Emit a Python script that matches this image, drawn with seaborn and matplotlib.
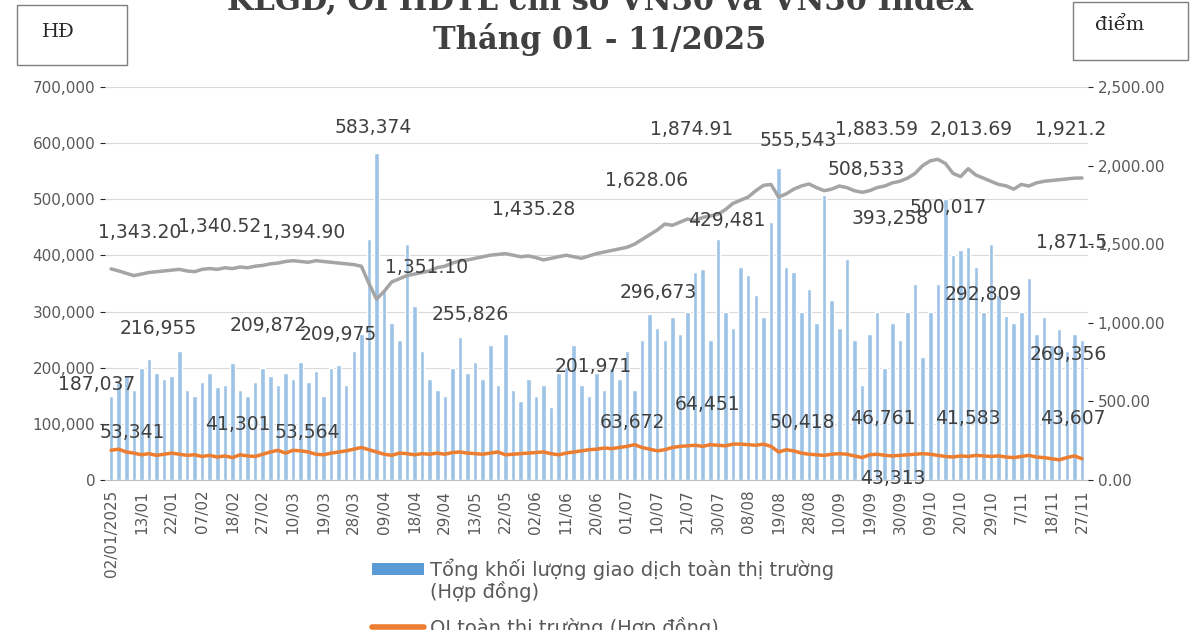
import numpy as np
import pandas as pd
import matplotlib
matplotlib.use("Agg")
import matplotlib.pyplot as plt
from matplotlib.patches import Rectangle
from matplotlib.lines import Line2D
import seaborn as sns

sns.set_style("white")
plt.rcParams['font.family'] = ['DejaVu Sans']

tick_labels = ["02/01/2025", "13/01", "22/01", "07/02", "18/02", "27/02", "10/03", "19/03",
               "28/03", "09/04", "18/04", "29/04", "13/05", "22/05", "02/06", "11/06",
               "20/06", "01/07", "10/07", "21/07", "30/07", "08/08", "19/08", "28/08",
               "10/09", "19/09", "30/09", "09/10", "20/10", "29/10", "7/11", "18/11", "27/11"]

# total volume, thousand contracts (4 samples per tick interval)
volume_k = [150, 175, 187, 160, 200, 216, 190, 180, 185, 230, 160, 150, 175, 190, 165, 170,
            209, 160, 150, 175, 200, 185, 170, 190, 180, 210, 175, 195, 150, 200, 205, 170,
            230, 260, 430, 583, 340, 280, 250, 420, 310, 230, 180, 160, 150, 200, 255, 190,
            210, 180, 240, 170, 260, 160, 140, 180, 150, 170, 130, 190, 201, 240, 170, 150,
            190, 160, 200, 180, 230, 160, 250, 296, 270, 250, 290, 260, 300, 370, 375, 250,
            429, 300, 270, 380, 365, 330, 290, 460, 555, 380, 370, 300, 340, 280, 508, 320,
            270, 393, 250, 170, 260, 300, 200, 280, 250, 300, 350, 220, 300, 350, 500, 400,
            410, 415, 380, 300, 420, 330, 292, 280, 300, 360, 260, 290, 240, 269, 230, 260, 250]

oi_k = [53, 55, 50, 48, 45, 47, 44, 46, 48, 46, 44, 45, 42, 44, 41, 43, 40, 45, 43, 42,
        46, 50, 53, 48, 53, 52, 50, 46, 45, 48, 50, 52, 55, 58, 54, 50, 46, 44, 48, 47,
        45, 47, 46, 48, 46, 49, 50, 48, 47, 46, 48, 50, 45, 46, 47, 48, 49, 50, 47, 45,
        48, 50, 52, 54, 55, 57, 56, 58, 60, 63, 58, 55, 52, 54, 58, 60, 61, 62, 60, 63,
        62, 61, 64, 64, 63, 62, 64, 60, 50, 54, 52, 48, 46, 45, 44, 46, 47, 46, 43, 40,
        45, 46, 44, 43, 44, 45, 46, 47, 46, 44, 42, 41, 43, 42, 44, 43, 42, 43, 41, 40,
        42, 44, 41, 40, 38, 36, 40, 43, 38]

vn30 = [1343, 1330, 1315, 1300, 1310, 1320, 1325, 1330, 1335, 1340, 1330, 1325,
        1340, 1345, 1340, 1350, 1345, 1355, 1350, 1360, 1365, 1375, 1380, 1390,
        1395, 1390, 1385, 1395, 1390, 1385, 1380, 1375, 1370, 1360, 1250, 1150,
        1200, 1260, 1280, 1300, 1310, 1320, 1330, 1351, 1360, 1380, 1395, 1400,
        1410, 1420, 1430, 1435, 1440, 1430, 1420, 1425, 1415, 1400, 1410, 1420,
        1430, 1420, 1410, 1425, 1440, 1450, 1460, 1470, 1480, 1500, 1530, 1560,
        1590, 1628, 1620, 1640, 1660, 1650, 1670, 1680, 1690, 1720, 1760, 1780,
        1800, 1840, 1874, 1880, 1800, 1820, 1850, 1870, 1883, 1860, 1840, 1850,
        1870, 1860, 1840, 1830, 1840, 1860, 1870, 1890, 1900, 1920, 1950, 2000,
        2030, 2040, 2013, 1950, 1930, 1980, 1940, 1920, 1900, 1880, 1871, 1850,
        1880, 1870, 1890, 1900, 1905, 1910, 1915, 1920, 1921]

df = pd.DataFrame({"i": np.arange(len(volume_k)),
                   "vol": np.array(volume_k) * 1000,
                   "oi": np.array(oi_k) * 1000,
                   "idx": vn30})

# labels: (text, x px, y px)
notes = [("187,037", 58, 385), ("216,955", 120, 328), ("209,872", 230, 325), ("209,975", 300, 335),
         ("583,374", 335, 128), ("429,481", 688, 220), ("555,543", 760, 140), ("508,533", 828, 170),
         ("393,258", 852, 218), ("500,017", 910, 208), ("292,809", 945, 295), ("269,356", 1030, 355),
         ("255,826", 432, 315), ("201,971", 555, 367), ("296,673", 620, 293),
         ("53,341", 100, 433), ("41,301", 205, 425), ("53,564", 275, 432), ("63,672", 600, 422),
         ("64,451", 675, 405), ("50,418", 770, 422), ("46,761", 850, 418), ("43,313", 860, 478),
         ("41,583", 935, 418), ("43,607", 1040, 418),
         ("1,343.20", 98, 232), ("1,340.52", 178, 226), ("1,394.90", 262, 232), ("1,351.10", 385, 267),
         ("1,435.28", 492, 210), ("1,628.06", 605, 181), ("1,874.91", 650, 130), ("1,883.59", 835, 130),
         ("2,013.69", 930, 130), ("1,921.2", 1035, 130), ("1,871.5", 1036, 243)]

fig = plt.figure(figsize=(12, 6.3), dpi=100)
ax = fig.add_axes([0.0875, 0.238, 0.8192, 0.624])
sns.barplot(data=df, x="i", y="vol", native_scale=True, color="#9dc3e6", saturation=1,
            width=0.6, ax=ax)
ax.set_ylim(0, 700000)
ax.set_xlim(-0.8, len(df) - 0.2)
ax.set_yticks(np.arange(0, 700001, 100000))
ax.set_yticklabels([f"{v:,}" for v in range(0, 700001, 100000)], fontsize=11, color="#595959")
ax.set_xticks(np.arange(0, len(df), 4))
ax.set_xticklabels(tick_labels, rotation=90, fontsize=11, color="#595959")
sns.lineplot(data=df, x="i", y="oi", color="#ed7d31", lw=2.5, ax=ax)
ax.set_xlabel("")
ax.set_ylabel("")
ax.grid(axis="y", color="#d9d9d9", lw=0.8)
for s in ["top", "right", "left"]:
    ax.spines[s].set_visible(False)
ax.spines["bottom"].set_color("#bfbfbf")

ax2 = ax.twinx()
sns.lineplot(data=df, x="i", y="idx", color="#a5a5a5", lw=2.5, ax=ax2)
ax2.set_ylim(0, 2500)
ax2.set_yticks(np.arange(0, 2501, 500))
ax2.set_yticklabels([f"{v:,.2f}" for v in range(0, 2501, 500)], fontsize=11, color="#595959")
ax2.set_ylabel("")
for s in ax2.spines.values():
    s.set_visible(False)

for t, x, y in notes:
    fig.text(x / 1200, 1 - y / 630, t, fontsize=13.5, color="#404040", va="center")

fig.text(0.5, 1.0, "KLGD, OI HĐTL chỉ số VN30 và VN30 Index", ha="center", va="center",
         fontsize=22, fontweight="bold", family="DejaVu Serif", color="#404040")
fig.text(0.5, 1 - 40 / 630, "Tháng 01 - 11/2025", ha="center", va="center",
         fontsize=22, fontweight="bold", family="DejaVu Serif", color="#404040")

fig.patches.append(Rectangle((17 / 1200, 1 - 65 / 630), 110 / 1200, 60 / 630, transform=fig.transFigure,
                             fill=False, ec="#7f7f7f", lw=1))
fig.text(42 / 1200, 1 - 32 / 630, "HĐ", fontsize=14, family="DejaVu Serif", va="center")
fig.patches.append(Rectangle((1073 / 1200, 1 - 60 / 630), 115 / 1200, 58 / 630, transform=fig.transFigure,
                             fill=False, ec="#7f7f7f", lw=1))
fig.text(1095 / 1200, 1 - 25 / 630, "điểm", fontsize=14, family="DejaVu Serif", va="center")

fig.patches.append(Rectangle((372 / 1200, 1 - 575 / 630), 52 / 1200, 12 / 630, transform=fig.transFigure,
                             fc="#5b9bd5", ec="none"))
fig.text(430 / 1200, 1 - 569 / 630, "Tổng khối lượng giao dịch toàn thị trường", fontsize=14,
         color="#595959", va="center")
fig.text(430 / 1200, 1 - 592 / 630, "(Hợp đồng)", fontsize=14, color="#595959", va="center")
fig.lines.append(Line2D([372 / 1200, 424 / 1200], [1 - 627 / 630] * 2, transform=fig.transFigure,
                        color="#ed7d31", lw=4))
fig.text(430 / 1200, 1 - 628 / 630, "OI toàn thị trường (Hợp đồng)", fontsize=14,
         color="#595959", va="center")

fig.savefig("out.png", dpi=100)
